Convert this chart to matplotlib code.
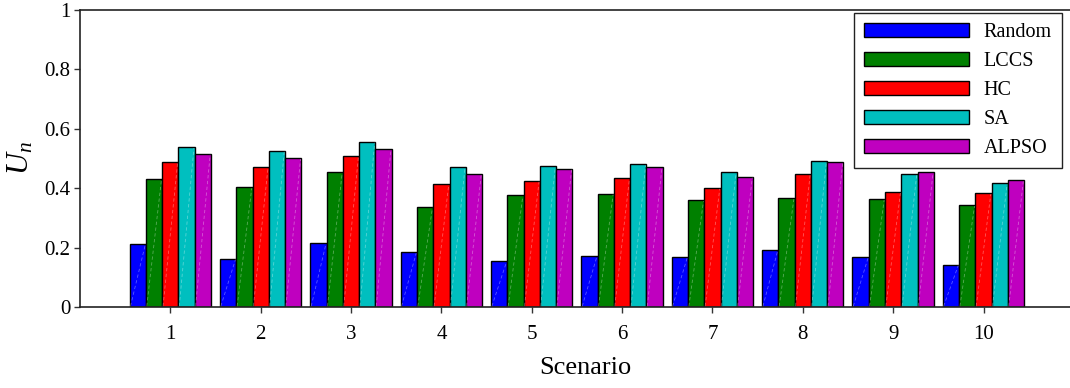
import numpy as np
import matplotlib
matplotlib.use("Agg")
import matplotlib.pyplot as plt

plt.rcParams["font.family"] = ["Liberation Serif", "DejaVu Serif"]
plt.rcParams["mathtext.fontset"] = "custom"
plt.rcParams["mathtext.rm"] = "Liberation Serif"
plt.rcParams["mathtext.it"] = "Liberation Serif:italic"

scenarios = [1, 2, 3, 4, 5, 6, 7, 8, 9, 10]
methods = ["Random", "LCCS", "HC", "SA", "ALPSO"]
random_vals = [0.211, 0.163, 0.214, 0.184, 0.155, 0.173, 0.169, 0.191, 0.167, 0.143]
lccs_vals = [0.430, 0.403, 0.453, 0.337, 0.376, 0.382, 0.359, 0.366, 0.364, 0.343]
hc_vals = [0.489, 0.472, 0.507, 0.414, 0.425, 0.434, 0.401, 0.447, 0.387, 0.383]
sa_vals = [0.538, 0.526, 0.556, 0.470, 0.475, 0.480, 0.453, 0.490, 0.449, 0.416]
alpso_vals = [0.516, 0.501, 0.532, 0.448, 0.465, 0.472, 0.439, 0.487, 0.453, 0.426]

series = [random_vals, lccs_vals, hc_vals, sa_vals, alpso_vals]
colors = ["#0000ff", "#008000", "#ff0000", "#00bfbf", "#bf00bf"]

fig = plt.figure(figsize=(10.7, 3.88), dpi=100)
# axes run past the right edge of the canvas (the reference is cropped there)
ax = fig.add_axes([80 / 1070, 1 - 307 / 388, 1010 / 1070, 297 / 388])

width = 0.18
x = np.array(scenarios, dtype=float)
for i, (vals, col, name) in enumerate(zip(series, colors, methods)):
    bars = ax.bar(x + (i - 2) * width, vals, width, color=col,
                  edgecolor="black", linewidth=1.0, label=name, zorder=2)
    # faint export artefact: a light diagonal streak inside each bar
    for b in bars:
        x0, w, h = b.get_x(), b.get_width(), b.get_height()
        ax.plot([x0 + 0.05 * w, x0 + 0.95 * w], [0.003, h - 0.003],
                color="white", lw=0.6, alpha=0.35, ls=(0, (4, 3)), zorder=3)

ax.set_xlim(0, 1010 / 90.35)
ax.set_ylim(0, 1)
ax.set_xticks(scenarios)
ax.set_yticks([0, 0.2, 0.4, 0.6, 0.8, 1])
ax.set_yticklabels(["0", "0.2", "0.4", "0.6", "0.8", "1"])
ax.tick_params(direction="out", length=4, width=1, labelsize=15,
               color="#333333")
ax.tick_params(axis="x", pad=9)
ax.tick_params(axis="y", pad=3)
ax.spines["right"].set_visible(False)
for s in ax.spines.values():
    s.set_linewidth(1.2)
    s.set_color("#222222")

ax.set_xlabel("Scenario", fontsize=19, labelpad=9)
ax.set_ylabel("$U_n$", fontsize=22, labelpad=6)

leg = ax.legend(loc="upper right", bbox_to_anchor=(1062 / 1070, 1 - 12.5 / 388),
                bbox_transform=fig.transFigure, borderaxespad=0,
                fancybox=False, fontsize=14.5, handlelength=5.2,
                handleheight=0.7, labelspacing=0.5, handletextpad=0.75,
                borderpad=0.5, framealpha=1)
leg.get_frame().set_edgecolor("#222222")
leg.get_frame().set_linewidth(1.0)

fig.savefig("out.png", dpi=100)
